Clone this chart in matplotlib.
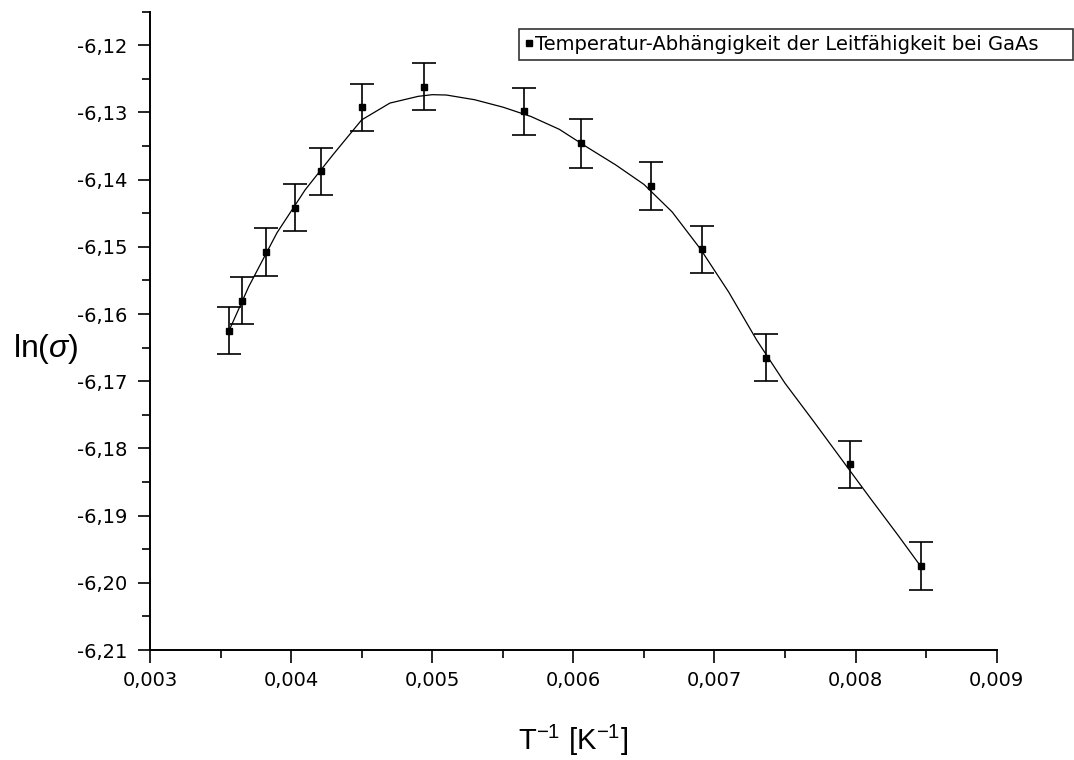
"""ln(sigma) vs. 1/T for GaAs, Origin-style plot with error bars and fit curve."""
import matplotlib
matplotlib.use("Agg")
import matplotlib.pyplot as plt
from matplotlib.lines import Line2D
from matplotlib.ticker import FuncFormatter, MultipleLocator

plt.rcParams["font.family"] = ["DejaVu Sans"]
plt.rcParams["mathtext.fontset"] = "custom"
plt.rcParams["mathtext.rm"] = "Liberation Sans"
plt.rcParams["mathtext.it"] = "Liberation Sans:italic"

# ---------------------------------------------------------------------------
# Data
# ---------------------------------------------------------------------------
inv_T = [0.003560, 0.003650, 0.003822, 0.004028, 0.004212, 0.004505, 0.004944,
         0.005651, 0.006055, 0.006549, 0.006912, 0.007366, 0.007961, 0.008462]
ln_sigma = [-6.16248, -6.15801, -6.15072, -6.14417, -6.13875, -6.12923, -6.12616,
            -6.12985, -6.13459, -6.14090, -6.15036, -6.16649, -6.18232, -6.19750]
ln_sigma_err = [0.0035, 0.0035, 0.0036, 0.0035, 0.0035, 0.0035, 0.0035,
                0.0035, 0.0036, 0.0036, 0.0035, 0.0035, 0.0035, 0.0035]

# fit curve as drawn in the reference
fit_x = [0.00356, 0.00370, 0.00390, 0.00410, 0.00430, 0.00450, 0.00470,
         0.00490, 0.00500, 0.00510, 0.00530, 0.00550, 0.00570, 0.00590,
         0.00610, 0.00630, 0.00650, 0.00670, 0.00690, 0.00710, 0.00730,
         0.00750, 0.00770, 0.00790, 0.00810, 0.00830, 0.00846]
fit_y = [-6.16248, -6.15590, -6.14790, -6.14150, -6.13620, -6.13110, -6.12860,
         -6.12760, -6.12735, -6.12740, -6.12810, -6.12920, -6.13060, -6.13250,
         -6.13520, -6.13780, -6.14070, -6.14480, -6.15030, -6.15670, -6.16390,
         -6.17030, -6.17590, -6.18160, -6.18730, -6.19290, -6.19750]

legend_label = "Temperatur-Abhängigkeit der Leitfähigkeit bei GaAs"

# ---------------------------------------------------------------------------
# Figure
# ---------------------------------------------------------------------------
W, H = 1074, 760
fig = plt.figure(figsize=(W / 100, H / 100), dpi=100)
ax = fig.add_axes([150 / W, 110 / H, 846.7 / W, 638.3 / H])

ax.plot(fit_x, fit_y, color="black", linewidth=0.9, zorder=2)
ax.errorbar(inv_T, ln_sigma, yerr=ln_sigma_err, fmt="s", color="black",
            markersize=5, elinewidth=1.2, capsize=8.5, capthick=1.2, zorder=3)

ax.set_xlim(0.003, 0.009)
ax.set_ylim(-6.21, -6.115)

for side in ("top", "right"):
    ax.spines[side].set_visible(False)
for side in ("left", "bottom"):
    ax.spines[side].set_linewidth(1.4)

ax.xaxis.set_major_locator(MultipleLocator(0.001))
ax.xaxis.set_minor_locator(MultipleLocator(0.0005))
ax.yaxis.set_major_locator(MultipleLocator(0.01))
ax.yaxis.set_minor_locator(MultipleLocator(0.005))
ax.xaxis.set_major_formatter(FuncFormatter(lambda v, _: f"{v:.3f}".replace(".", ",")))
ax.yaxis.set_major_formatter(FuncFormatter(lambda v, _: f"{v:.2f}".replace(".", ",")))

ax.tick_params(which="major", direction="out", length=9, width=1.2, labelsize=14)
ax.tick_params(which="minor", direction="out", length=5.5, width=1.2)
ax.tick_params(axis="y", which="major", pad=7.5)
ax.tick_params(axis="x", which="major", pad=6)

ax.set_ylabel(r"ln($\it{\sigma}$)", fontsize=23, rotation=0, ha="left", va="center",
              family="Liberation Sans")
ax.yaxis.set_label_coords(-0.162, 0.471)
ax.set_xlabel(r"T$^{-1}$ [K$^{-1}$]", fontsize=21, va="center",
              family="Liberation Sans")
ax.xaxis.set_label_coords(0.5, -0.141)

handle = Line2D([], [], marker="s", color="black", linestyle="none", markersize=4)
leg = ax.legend([handle], [legend_label], loc="upper left", mode="expand",
                bbox_to_anchor=(519 / W, 1 - 29 / H, (1073 - 519) / W, 0),
                bbox_transform=fig.transFigure, fontsize=14, frameon=True,
                fancybox=False, borderpad=0.3, borderaxespad=0,
                handlelength=0.4, handletextpad=0.1)
leg.get_frame().set_edgecolor("black")
leg.get_frame().set_linewidth(1.2)

fig.savefig("out.png", dpi=100)
